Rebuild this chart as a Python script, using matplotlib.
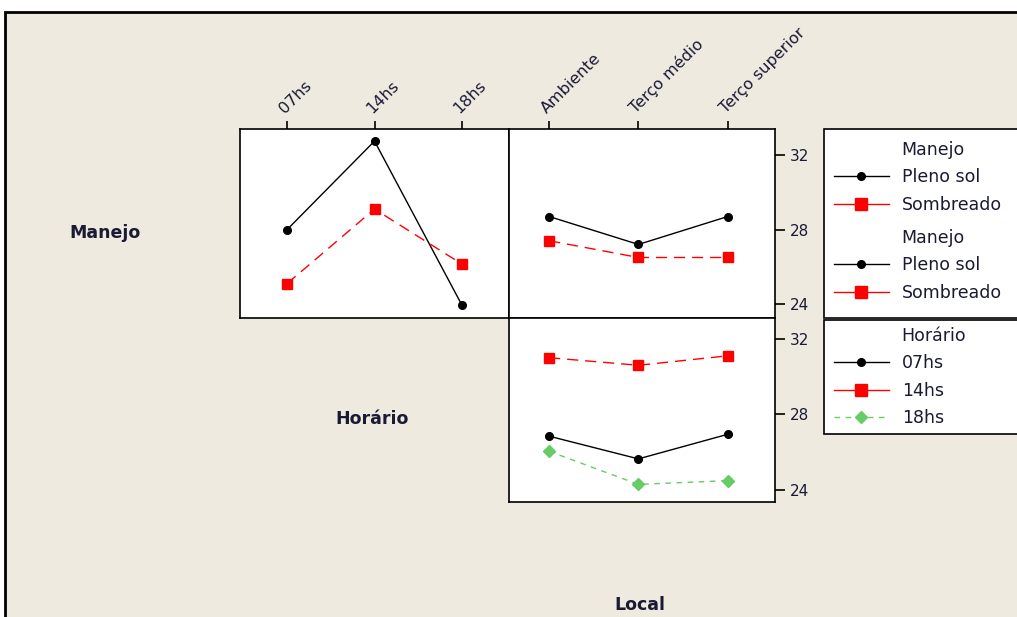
import matplotlib.pyplot as plt
from matplotlib.lines import Line2D
from matplotlib.patches import Rectangle

horarios = ['07hs', '14hs', '18hs']
locais = ['Ambiente', 'Terço médio', 'Terço superior']

# médias de Manejo por Horário
pleno_sol_horario = [28.0, 32.75, 23.95]
sombreado_horario = [25.1, 29.1, 26.15]

# médias de Manejo por Local
pleno_sol_local = [28.7, 27.2, 28.7]
sombreado_local = [27.4, 26.5, 26.5]

# médias de Horário por Local
h07_local = [26.85, 25.65, 26.95]
h14_local = [31.0, 30.6, 31.1]
h18_local = [26.05, 24.3, 24.5]

y_ticks = [24, 28, 32]

W, H = 1017, 617
BG = '#efeae0'
VERDE = '#66cc66'
TXT = '#1a1a33'
plt.rcParams['font.family'] = 'DejaVu Sans'
plt.rcParams['font.size'] = 11

fig = plt.figure(figsize=(W / 100, H / 100), dpi=100)
fig.patch.set_facecolor('white')
fig.patches.append(Rectangle((5 / W, -0.01), 1.05, (H - 12) / H + 0.01,
                             transform=fig.transFigure, facecolor=BG,
                             edgecolor='black', linewidth=2, zorder=-10))


def box(x0, y0, x1, y1):
    return [x0 / W, (H - y1) / H, (x1 - x0) / W, (y1 - y0) / H]


preto = dict(color='black', marker='o', markersize=5.5, linewidth=1)
verm = dict(color='red', marker='s', markersize=7, linewidth=1, dashes=(8, 5))
verde = dict(color=VERDE, marker='D', markersize=6.5, linewidth=1, dashes=(4, 4))

ax1 = fig.add_axes(box(240, 129, 509, 318))
ax2 = fig.add_axes(box(509, 129, 775, 318))
ax3 = fig.add_axes(box(509, 318, 775, 502))

x = range(3)
ax1.plot(x, pleno_sol_horario, **preto)
ax1.plot(x, sombreado_horario, **verm)
ax2.plot(x, pleno_sol_local, **preto)
ax2.plot(x, sombreado_local, **verm)
ax3.plot(x, h14_local, **verm)
ax3.plot(x, h07_local, **preto)
ax3.plot(x, h18_local, **verde)

ax1.set_xlim(-0.54, 2.54)
ax2.set_xlim(-0.45, 2.53)
ax3.set_xlim(-0.45, 2.53)
ax1.set_ylim(23.25, 33.4)
ax2.set_ylim(23.25, 33.4)
ax3.set_ylim(23.37, 33.1)

for ax in (ax1, ax2, ax3):
    ax.set_facecolor('white')
    for s in ax.spines.values():
        s.set_linewidth(1.2)

for ax, labels in ((ax1, horarios), (ax2, locais)):
    ax.xaxis.tick_top()
    ax.set_xticks(list(x))
    ax.set_xticklabels(labels, rotation=45, ha='left', va='bottom',
                       rotation_mode='anchor', color=TXT, fontsize=11.5)
    ax.tick_params(axis='x', direction='out', length=6, width=1.2, pad=3)

ax1.set_yticks([])
ax3.set_xticks([])
for ax in (ax2, ax3):
    ax.yaxis.tick_right()
    ax.set_yticks(y_ticks)
    ax.tick_params(axis='y', direction='out', length=7, width=1.2, pad=4,
                   labelcolor=TXT, labelsize=11)

for nome, px, py in (('Manejo', 105, 233), ('Horário', 372, 419),
                     ('Local', 640, 605)):
    fig.text(px / W, 1 - py / H, nome, ha='center', va='center',
             fontweight='bold', fontsize=12.5, color=TXT)

# caixas das legendas
for y0, y1 in ((129, 318), (320, 434)):
    fig.patches.append(Rectangle((824 / W, 1 - y1 / H), 0.2, (y1 - y0) / H,
                                 transform=fig.transFigure, facecolor='white',
                                 edgecolor='black', linewidth=1.2, zorder=1))

vazio = Line2D([], [], linestyle='none')
h_preto = Line2D([], [], **preto)
h_verm = Line2D([], [], color='red', marker='s', markersize=8, linewidth=1)
h_verde = Line2D([], [], **verde)

estilo = dict(loc='upper left', frameon=False, handlelength=3.15,
              handletextpad=0.75, labelspacing=0.54, borderpad=0,
              borderaxespad=0, fontsize=12.5, labelcolor=TXT)

fig.legend([vazio, h_preto, h_verm], ['Manejo', 'Pleno sol', 'Sombreado'],
           bbox_to_anchor=(834 / W, 1 - 141 / H), **estilo)
fig.legend([vazio, h_preto, h_verm], ['Manejo', 'Pleno sol', 'Sombreado'],
           bbox_to_anchor=(834 / W, 1 - 229 / H), **estilo)
fig.legend([vazio, h_preto, h_verm, h_verde], ['Horário', '07hs', '14hs', '18hs'],
           bbox_to_anchor=(834 / W, 1 - 327 / H), **estilo)

fig.savefig('out.png', dpi=100, facecolor=fig.get_facecolor())
